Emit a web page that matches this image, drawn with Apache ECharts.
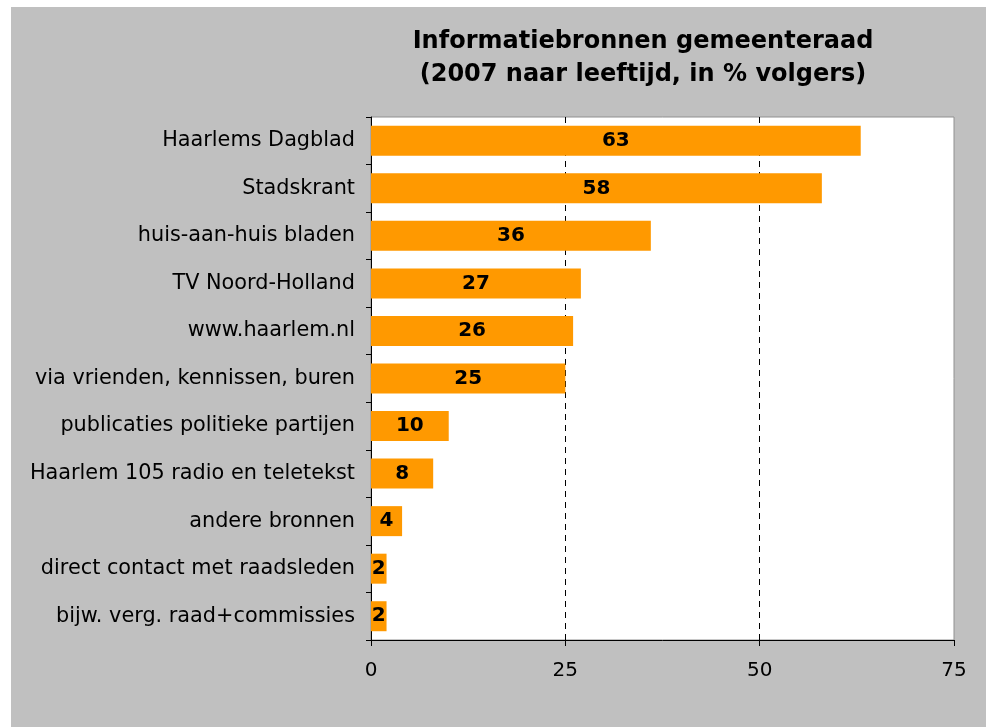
<!DOCTYPE html>
<html>
<head>
<meta charset="utf-8">
<script src="https://cdn.jsdelivr.net/npm/echarts@6/dist/echarts.min.js"></script>
<style>
  html, body { margin: 0; padding: 0; background: #fff; }
  #chart { position: absolute; left: 11px; top: 7px; width: 975px; height: 720px; }
</style>
</head>
<body>
<div id="chart"></div>
<script>
// bronnen, van boven naar beneden
const categories = [
  'Haarlems Dagblad',
  'Stadskrant',
  'huis-aan-huis bladen',
  'TV Noord-Holland',
  'www.haarlem.nl',
  'via vrienden, kennissen, buren',
  'publicaties politieke partijen',
  'Haarlem 105 radio en teletekst',
  'andere bronnen',
  'direct contact met raadsleden',
  'bijw. verg. raad+commissies'
]
const values = [63, 58, 36, 27, 26, 25, 10, 8, 4, 2, 2]
const xTicks = [0, 25, 50, 75]

const font = 'DejaVu Sans'
const chart = echarts.init(document.getElementById('chart'))

const option = {
  backgroundColor: '#c0c0c0',
  animation: false,
  title: {
    text: 'Informatiebronnen gemeenteraad\n(2007 naar leeftijd, in % volgers)',
    left: 627,
    top: 13,
    textAlign: 'center',
    textStyle: {
      fontFamily: font,
      fontSize: 24,
      fontWeight: 'bold',
      color: '#000',
      lineHeight: 33
    }
  },
  grid: {
    left: 360,
    right: 32,
    top: 110,
    bottom: 87,
    show: true,
    backgroundColor: '#fff',
    borderColor: '#909090',
    borderWidth: 1
  },
  xAxis: {
    type: 'value',
    min: xTicks[0],
    max: xTicks[xTicks.length - 1],
    interval: 25,
    axisLine: { show: true, lineStyle: { color: '#000', width: 1 } },
    axisTick: { show: true, length: 6, lineStyle: { color: '#000' } },
    axisLabel: { fontFamily: font, fontSize: 20, color: '#000', margin: 21 },
    splitLine: {
      show: true,
      lineStyle: {
        color: ['#000', '#000', '#000', 'rgba(0,0,0,0)'],
        type: [6, 5],
        width: 1
      }
    }
  },
  yAxis: {
    type: 'category',
    inverse: true,
    data: categories,
    axisLine: { show: true, lineStyle: { color: '#000', width: 1 } },
    axisTick: { show: true, length: 5, lineStyle: { color: '#000' } },
    axisLabel: { fontFamily: font, fontSize: 20.8, color: '#000', margin: 16 }
  },
  series: [
    {
      type: 'bar',
      data: values,
      barWidth: 30,
      itemStyle: { color: '#ff9900' },
      label: {
        show: true,
        position: 'inside',
        fontFamily: font,
        fontSize: 20,
        fontWeight: 'bold',
        color: '#000'
      }
    }
  ]
}

chart.setOption(option)
</script>
</body>
</html>
